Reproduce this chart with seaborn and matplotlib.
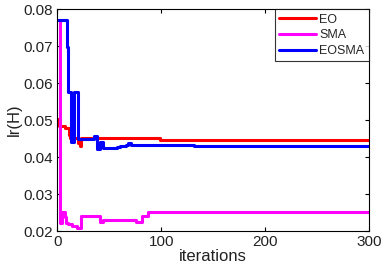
import matplotlib
matplotlib.use("Agg")
import matplotlib.pyplot as plt
import seaborn as sns
import pandas as pd

# Breakpoints (iteration, value); drawn as step lines
eo_x = [0, 1, 2, 7, 11, 12, 20, 22, 23, 99, 300]
eo_y = [0.0502, 0.0490, 0.0485, 0.0480, 0.0460, 0.0451, 0.0438, 0.0430, 0.0451, 0.0445, 0.0445]

sma_x = [0, 3, 4, 7, 8, 10, 14, 19, 23, 41, 44, 76, 82, 87, 300]
sma_y = [0.0771, 0.0221, 0.0252, 0.0238, 0.0222, 0.0220, 0.0213, 0.0209, 0.0240,
         0.0226, 0.0229, 0.0225, 0.0242, 0.0252, 0.0252]

eosma_x = [0, 9, 10, 13, 16, 20, 35, 38, 41, 44, 57, 60, 63, 66, 68, 71, 132, 300]
eosma_y = [0.0771, 0.0697, 0.0577, 0.0440, 0.0577, 0.0450, 0.0458, 0.0423, 0.0440,
           0.0424, 0.0427, 0.0429, 0.0431, 0.0434, 0.0437, 0.0434, 0.0431, 0.0431]

series_names = ["EO", "SMA", "EOSMA"]
colors = ["#ff0000", "#ff00ff", "#0000ff"]
x_ticks = [0, 100, 200, 300]
y_ticks = [0.02, 0.03, 0.04, 0.05, 0.06, 0.07, 0.08]

sns.set_style("white")
plt.rcParams["font.family"] = ["Liberation Sans", "DejaVu Sans"]

frames = []
for name, xs, ys in zip(series_names, [eo_x, sma_x, eosma_x], [eo_y, sma_y, eosma_y]):
    frames.append(pd.DataFrame({"iterations": xs, "value": ys, "alg": name}))
df = pd.concat(frames, ignore_index=True)

fig = plt.figure(figsize=(3.85, 2.70), dpi=100)
ax = fig.add_axes([0.149, 0.144, 0.809, 0.822])

for name, c in zip(series_names, colors):
    sub = df[df["alg"] == name]
    sns.lineplot(data=sub, x="iterations", y="value", ax=ax, color=c,
                 drawstyle="steps-post", linewidth=2.2, label=name,
                 estimator=None, sort=False)

ax.set_xlim(0, 300)
ax.set_ylim(0.02, 0.08)
ax.set_xticks(x_ticks)
ax.set_yticks(y_ticks)
ax.set_yticklabels([f"{v:.2f}" for v in y_ticks])
ax.tick_params(direction="in", length=3, width=0.8, labelsize=11, colors="black",
               top=True, right=True, bottom=True, left=True, pad=3)
ax.tick_params(axis="both", labelcolor="#222222")
for s in ax.spines.values():
    s.set_visible(True)
    s.set_color("black")
    s.set_linewidth(0.8)

ax.set_xlabel("iterations", fontsize=12, labelpad=0, color="#222222")
ax.set_ylabel("lr(H)", fontsize=12, labelpad=1, color="#222222")

leg = ax.legend(loc="upper right", fontsize=9, frameon=True, fancybox=False,
                borderpad=0.35, handlelength=2.9, handletextpad=0.3,
                labelspacing=0.3, borderaxespad=0.0)
leg.get_frame().set_edgecolor("black")
leg.get_frame().set_linewidth(0.8)

fig.savefig("out.png", dpi=100)
